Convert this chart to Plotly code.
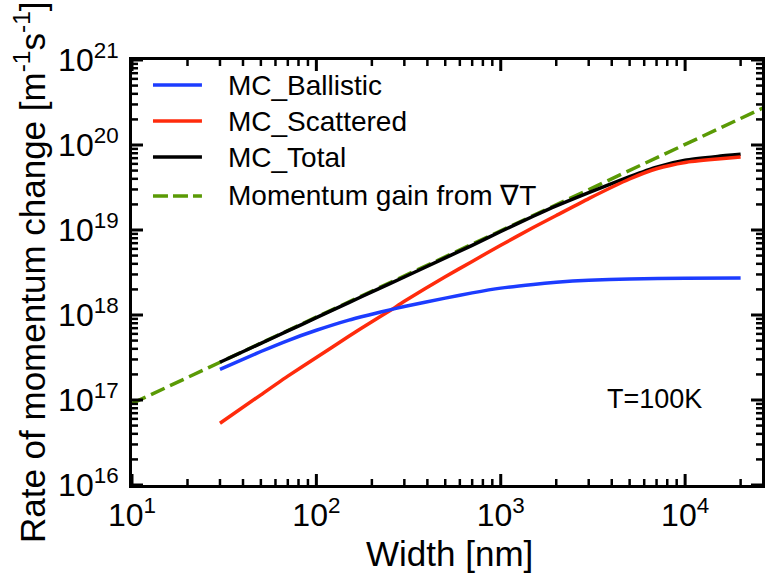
import math
import plotly.graph_objects as go

# Channel widths [nm] at which the MC curves are sampled
ballistic_width = [30, 50, 70, 100, 150, 200, 250, 300, 500, 700, 1000, 1500, 2000,
                   3000, 5000, 10000, 20000]
ballistic_rate = [2.29e17, 3.72e17, 5.01e17, 6.61e17, 8.71e17, 1.02e18, 1.15e18, 1.26e18,
                  1.58e18, 1.82e18, 2.07e18, 2.29e18, 2.43e18, 2.57e18, 2.66e18,
                  2.70e18, 2.73e18]

scattered_width = [30, 50, 70, 100, 150, 200, 250, 300, 500, 700, 1000, 1500, 2000,
                   3000, 5000, 7000, 10000, 15000, 20000]
scattered_rate = [5.32e16, 1.15e17, 1.91e17, 3.16e17, 5.62e17, 8.32e17, 1.12e18, 1.45e18,
                  2.82e18, 4.27e18, 6.61e18, 1.07e19, 1.48e19, 2.34e19, 3.98e19,
                  5.25e19, 6.24e19, 6.84e19, 7.24e19]

total_width = [30, 50, 70, 100, 150, 200, 300, 500, 700, 1000, 1500, 2000, 3000,
               5000, 7000, 10000, 15000, 20000]
total_rate = [2.78e17, 4.63e17, 6.49e17, 9.3e17, 1.4e18, 1.87e18, 2.8e18, 4.7e18,
              6.6e18, 9.6e18, 1.45e19, 1.92e19, 2.75e19, 4.25e19, 5.5e19, 6.61e19,
              7.33e19, 7.76e19]

# Momentum gain from the temperature gradient (straight line on log-log)
gain_width = [10, 30000]
gain_rate = [9.1e16, 3.1e20]

# drawing order: dashed reference first, then the MC curves
series = [
    ("Momentum gain from \u2207T", gain_width, gain_rate, "#5a9a05", "15px,6px"),
    ("MC_Total", total_width, total_rate, "#000000", "solid"),
    ("MC_Scattered", scattered_width, scattered_rate, "#ff2b0c", "solid"),
    ("MC_Ballistic", ballistic_width, ballistic_rate, "#1c3cff", "solid"),
]
legend_order = ["MC_Ballistic", "MC_Scattered", "MC_Total", "Momentum gain from \u2207T"]

# axis ticks
x_major = [10.0, 100.0, 1000.0, 10000.0]
x_major_text = ["10<sup>1</sup>", "10<sup>2</sup>", "10<sup>3</sup>", "10<sup>4</sup>"]
y_major = [1e16, 1e17, 1e18, 1e19, 1e20, 1e21]
y_major_text = ["10<sup>16</sup>", "10<sup>17</sup>", "10<sup>18</sup>",
                "10<sup>19</sup>", "10<sup>20</sup>", "10<sup>21</sup>"]
x_range_log = [1, 4.417]
y_range_log = [16, 21]
x_minor = [m * 10.0 ** k for k in range(1, 5) for m in range(2, 10)
           if math.log10(m * 10.0 ** k) < x_range_log[1]]
y_minor = [m * 10.0 ** k for k in range(16, 21) for m in range(2, 10)]

W, H = 766, 584
L, R, T, B = 132, 3.5, 60, 99
pw, ph = W - L - R, H - T - B
x_dec = (x_range_log[1] - x_range_log[0]) / pw   # decades per pixel
y_dec = (y_range_log[1] - y_range_log[0]) / ph


def px(x):
    return (x - L) / pw


def py(y):
    return (H - B - y) / ph


fig = go.Figure()
for name, xs, ys, color, dash in series:
    fig.add_trace(go.Scatter(
        x=xs, y=ys, mode="lines", name=name, showlegend=False, hoverinfo="skip",
        line=dict(color=color, width=3.5, dash=dash, shape="spline", smoothing=0.5),
    ))

# inward tick marks on all four sides of the frame, drawn as line segments
MAJ, MIN = 11, 6
x_lo, x_hi = 10.0 ** x_range_log[0], 10.0 ** x_range_log[1]
y_lo, y_hi = 10.0 ** y_range_log[0], 10.0 ** y_range_log[1]
for xvals, yvals, ln, w in ((x_major, y_major, MAJ, 3), (x_minor, y_minor, MIN, 2.5)):
    tx, ty = [], []
    ky = 10.0 ** (ln * y_dec)
    kx = 10.0 ** (ln * x_dec)
    for v in xvals:
        tx += [v, v, None, v, v, None]
        ty += [y_lo, y_lo * ky, None, y_hi, y_hi / ky, None]
    for v in yvals:
        tx += [x_lo, x_lo * kx, None, x_hi, x_hi / kx, None]
        ty += [v, v, None, v, v, None]
    fig.add_trace(go.Scatter(x=tx, y=ty, mode="lines", showlegend=False,
                             hoverinfo="skip", connectgaps=False,
                             line=dict(color="black", width=w)))

font = "Liberation Sans"
shapes = []
annotations = []

# hand-placed legend block
legend_y = [85, 121, 157, 196]
style = {s[0]: s for s in series}
for name, ly in zip(legend_order, legend_y):
    _, _, _, color, dash = style[name]
    shapes.append(dict(type="line", xref="paper", yref="paper",
                       x0=px(153), x1=px(202), y0=py(ly), y1=py(ly),
                       line=dict(color=color, width=3.5,
                                 dash="15px,5px" if dash != "solid" else "solid")))
    annotations.append(dict(xref="paper", yref="paper", x=px(226), y=py(ly),
                            xanchor="left", yanchor="middle", showarrow=False,
                            text=name, font=dict(size=28, color="black", family=font)))

annotations.append(dict(xref="paper", yref="paper", x=px(655), y=py(399),
                        xanchor="center", yanchor="middle", showarrow=False,
                        text="T=100K", font=dict(size=27, color="black", family=font)))
annotations.append(dict(xref="paper", yref="paper", x=px(450), y=py(553),
                        xanchor="center", yanchor="middle", showarrow=False,
                        text="Width [nm]", font=dict(size=35, color="black", family=font)))
annotations.append(dict(xref="paper", yref="paper", x=px(30), y=py(272),
                        xanchor="center", yanchor="middle", showarrow=False, textangle=-90,
                        text="Rate of momentum change [m<sup>-1</sup>s<sup>-1</sup>]",
                        font=dict(size=35, color="black", family=font)))

axis_common = dict(
    type="log", showgrid=False, zeroline=False, showline=True, linecolor="black",
    linewidth=3, mirror=True, ticks="", tickmode="array", automargin=False,
    tickfont=dict(size=32, color="black", family=font),
)

fig.update_layout(
    width=W, height=H, margin=dict(l=L, r=R, t=T, b=B),
    paper_bgcolor="white", plot_bgcolor="white", showlegend=False,
    xaxis=dict(range=x_range_log, tickvals=x_major, ticktext=x_major_text, **axis_common),
    yaxis=dict(range=y_range_log, tickvals=y_major, ticktext=y_major_text,
               ticklabelstandoff=4, **axis_common),
    shapes=shapes, annotations=annotations,
)

fig.write_html("out.html")
